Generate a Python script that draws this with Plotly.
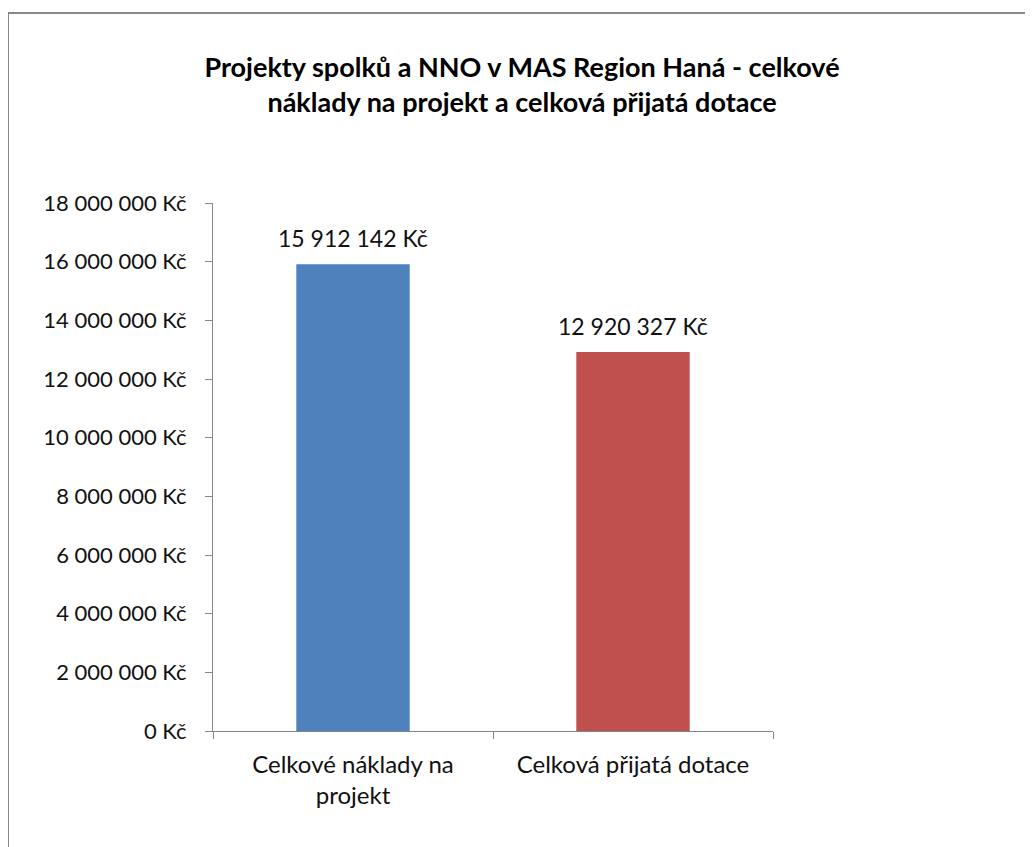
import plotly.graph_objects as go

categories = ["Celkové náklady na<br>projekt", "Celková přijatá dotace"]
values = [15912142, 12920327]
bar_colors = ["#4F81BD", "#C0504D"]
tick_vals = [0, 2000000, 4000000, 6000000, 8000000, 10000000, 12000000, 14000000, 16000000, 18000000]


def fmt(v):
    return "{:,}".format(v).replace(",", " ") + " Kč"


tick_text = [fmt(v) for v in tick_vals]
labels = [fmt(v) for v in values]

# page body has 8px margin; figure coordinates = reference - 8
OFF = 8
W, H = 1033 - OFF, 847 - OFF
L, R, T, B = 213 - OFF, 773 - OFF, 203 - OFF, 731 - OFF

fig = go.Figure(go.Bar(
    x=categories, y=values, marker=dict(color=bar_colors, line=dict(width=0)),
    width=0.405, hoverinfo="x+y",
))

for c, v, t in zip(categories, values, labels):
    fig.add_annotation(x=c, y=v, text=t, showarrow=False, yanchor="bottom",
                       yshift=10, font=dict(family="Lato", size=23, color="#111111"))

fig.update_layout(
    width=W, height=H,
    margin=dict(l=L, r=W - R, t=T, b=H - B, autoexpand=False),
    paper_bgcolor="white", plot_bgcolor="white",
    font=dict(family="Lato", size=22, color="#111111"),
    showlegend=False,
    title=dict(
        text="<b>Projekty spolků a NNO v MAS Region Haná - celkové<br>náklady na projekt a celková přijatá dotace</b>",
        x=(522 - OFF) / W, xanchor="center", xref="container",
        y=1 - (77 - OFF) / H, yanchor="middle", yref="container",
        font=dict(family="Lato", size=27, color="#000000"),
    ),
    xaxis=dict(
        showline=True, linecolor="#868686", linewidth=1,
        ticks="outside", ticklen=7, tickcolor="#868686", tickson="boundaries",
        tickfont=dict(family="Lato", size=24, color="#111111"), showgrid=False,
        ticklabelstandoff=12,
    ),
    yaxis=dict(
        range=[0, 18000000], tickvals=tick_vals, ticktext=tick_text,
        showline=True, linecolor="#868686", linewidth=1,
        ticks="outside", ticklen=7, tickcolor="#868686",
        tickfont=dict(family="Lato", size=22, color="#111111"), showgrid=False, zeroline=False,
        ticklabelstandoff=14,
    ),
    shapes=[dict(
        type="rect", xref="paper", yref="paper",
        x0=(8 - OFF - L) / (R - L), x1=(1100 - L) / (R - L),
        y0=(B - 900) / (B - T), y1=(B - (13 - OFF)) / (B - T),
        line=dict(color="#888888", width=2), fillcolor="rgba(0,0,0,0)", layer="below",
    )],
)

fig.write_html("out.html")
